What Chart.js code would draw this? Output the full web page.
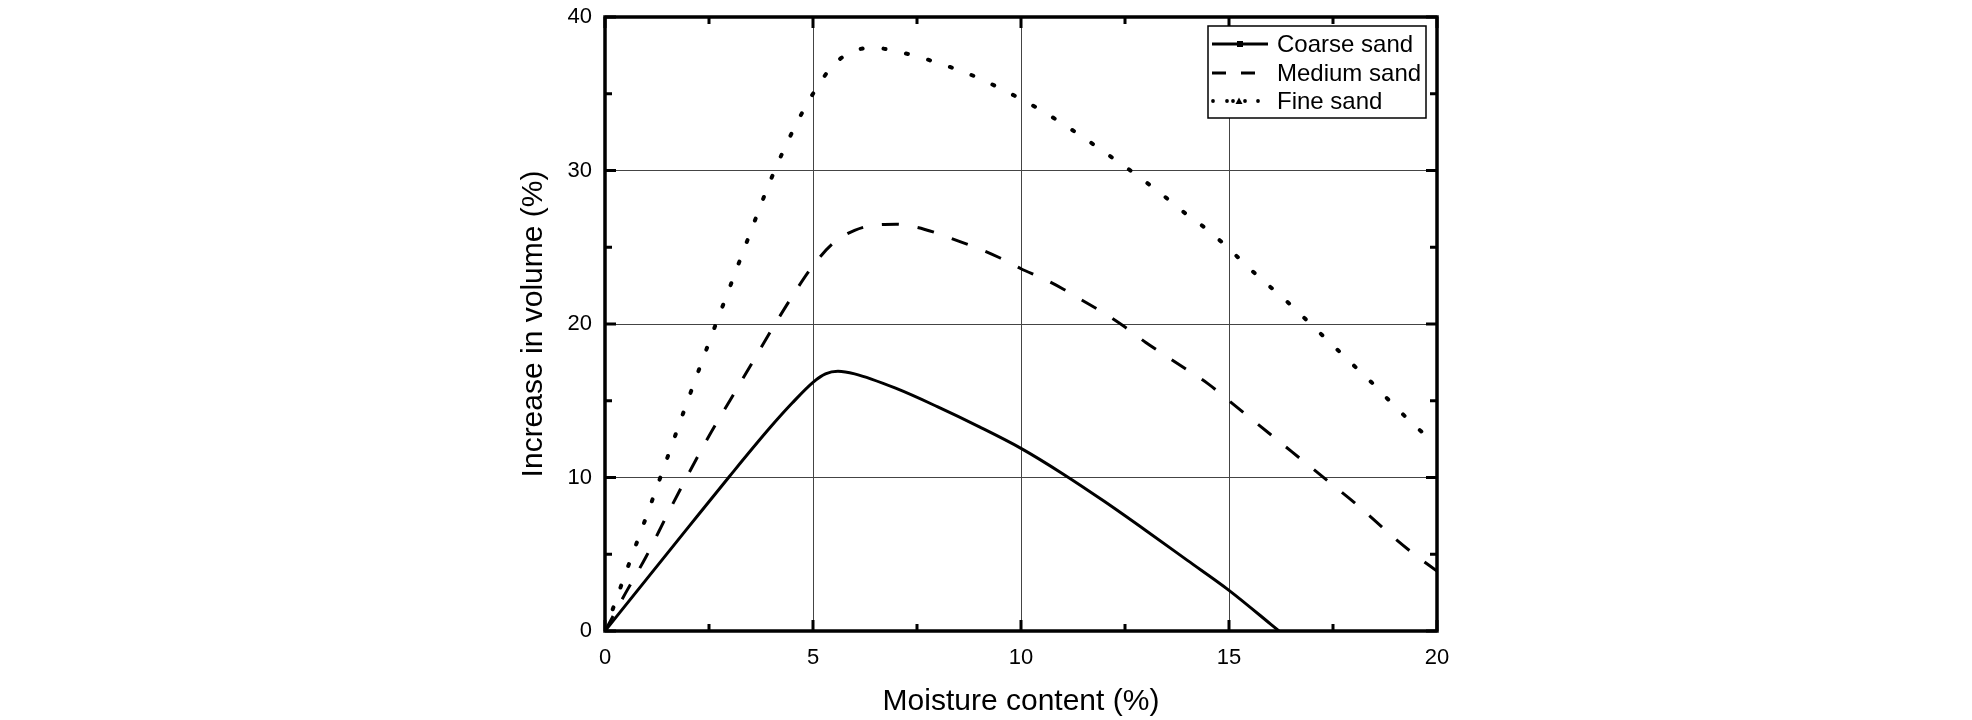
<!DOCTYPE html>
<html><head><meta charset="utf-8">
<script src="https://cdn.jsdelivr.net/npm/chart.js@4.4.1/dist/chart.umd.min.js"></script>
<style>html,body{margin:0;padding:0;background:#fff;}#wrap{width:1972px;height:720px;}</style>
</head><body><div id="wrap"><canvas id="c" width="1972" height="720"></canvas></div>
<script>
// ---- data ----
const seriesNames = ['Coarse sand', 'Medium sand', 'Fine sand'];
const coarseX = [0,1,2,3,4,4.5,5,5.3,5.6,6,7,8,9,10,11,12,13,14,15,16,16.2];
const coarseY = [0,3.38,6.75,10.1,13.35,14.85,16.2,16.75,16.92,16.75,15.8,14.6,13.3,11.9,10.25,8.45,6.55,4.6,2.65,0.45,0];
const mediumX = [0,0.5,1,1.5,2,2.5,3,3.5,4,4.5,5,5.5,6,6.5,7,7.5,8,8.5,9,9.5,10,10.5,11,11.5,12,12.5,13,13.5,14,14.5,15,15.5,16,16.5,17,17.5,18,18.5,19,19.5,20];
const mediumY = [0,2.5,4.9,7.6,10.2,12.7,15.0,17.3,19.6,21.8,23.8,25.3,26.1,26.45,26.5,26.3,25.9,25.4,24.9,24.3,23.6,23.0,22.3,21.5,20.7,19.8,18.8,17.9,17.0,16.1,15.0,13.9,12.8,11.7,10.6,9.5,8.4,7.2,6.0,4.9,3.9];
const fineX = [0,0.5,1,1.5,2,2.5,3,3.5,4,4.5,5,5.5,6,6.5,7,7.5,8,8.5,9,9.5,10,10.5,11,11.5,12,12.5,13,13.5,14,14.5,15,15.5,16,16.5,17,17.5,18,18.5,19,19.5,20];
const fineY = [0,3.8,7.5,11.3,15.1,18.8,22.4,26.0,29.5,32.5,35.0,36.9,37.8,38.0,37.75,37.45,37.0,36.55,36.0,35.35,34.65,33.9,33.05,32.15,31.2,30.25,29.25,28.2,27.1,26.1,24.9,23.6,22.4,21.2,19.9,18.6,17.3,16.0,14.6,13.3,12.1];
const xTickLabels = ['0','5','10','15','20'];
const yTickLabels = ['0','10','20','30','40'];
const xTitle = 'Moisture content (%)';
const yTitle = 'Increase in volume (%)';

const FONT = "'Liberation Sans', Arial, sans-serif";
const pts = (xs, ys) => xs.map((x, i) => ({x, y: ys[i]}));

const frameTicks = {
  id: 'frameTicks',
  afterDatasetsDraw(chart) {
    const {ctx, chartArea: a} = chart;
    const xs = chart.scales.x, ys = chart.scales.y;
    ctx.save();
    ctx.strokeStyle = '#000';
    ctx.lineWidth = 3;
    ctx.lineCap = 'butt';
    for (let v = 0; v <= 20.001; v += 2.5) {
      const L = (Math.abs(v % 5) < 1e-6) ? 11 : 7;
      const px = xs.getPixelForValue(v);
      ctx.beginPath();
      ctx.moveTo(px, a.bottom); ctx.lineTo(px, a.bottom - L);
      ctx.moveTo(px, a.top); ctx.lineTo(px, a.top + L);
      ctx.stroke();
    }
    for (let v = 0; v <= 40.001; v += 5) {
      const L = (Math.abs(v % 10) < 1e-6) ? 11 : 7;
      const py = ys.getPixelForValue(v);
      ctx.beginPath();
      ctx.moveTo(a.left, py); ctx.lineTo(a.left + L, py);
      ctx.moveTo(a.right, py); ctx.lineTo(a.right - L, py);
      ctx.stroke();
    }
    ctx.lineWidth = 3.5;
    ctx.strokeRect(a.left, a.top, a.right - a.left, a.bottom - a.top);
    ctx.restore();
  }
};

const boxLegend = {
  id: 'boxLegend',
  afterDraw(chart) {
    const {ctx, chartArea: a} = chart;
    const bx = a.right - 229, by = a.top + 9, bw = 218, bh = 92;
    ctx.save();
    ctx.fillStyle = '#fff';
    ctx.fillRect(bx, by, bw, bh);
    ctx.strokeStyle = '#000';
    ctx.lineWidth = 1.5;
    ctx.strokeRect(bx, by, bw, bh);
    const x0 = bx + 4, x1 = bx + 60, tx = bx + 69;
    const rows = [by + 18, by + 47, by + 75];
    ctx.lineWidth = 3;
    // coarse
    ctx.beginPath(); ctx.moveTo(x0, rows[0]); ctx.lineTo(x1, rows[0]); ctx.stroke();
    ctx.fillStyle = '#000';
    ctx.fillRect((x0 + x1) / 2 - 3, rows[0] - 3, 6, 6);
    // medium
    ctx.setLineDash([14, 15]);
    ctx.beginPath(); ctx.moveTo(x0, rows[1]); ctx.lineTo(x1, rows[1]); ctx.stroke();
    ctx.setLineDash([]);
    // fine
    [1, 15, 21, 33, 46].forEach(d => {
      ctx.beginPath(); ctx.arc(x0 + d, rows[2], 1.9, 0, Math.PI * 2); ctx.fill();
    });
    const cx = x0 + 27;
    ctx.beginPath(); ctx.moveTo(cx - 3.5, rows[2] + 3); ctx.lineTo(cx + 3.5, rows[2] + 3); ctx.lineTo(cx, rows[2] - 3.5); ctx.closePath(); ctx.fill();
    ctx.font = '24px ' + FONT;
    ctx.textBaseline = 'middle';
    ctx.textAlign = 'left';
    chart.data.datasets.forEach((ds, i) => ctx.fillText(ds.label, tx, rows[i] + 1.5));
    ctx.restore();
  }
};

new Chart(document.getElementById('c'), {
  type: 'line',
  data: {
    datasets: [
      {label: seriesNames[0], data: pts(coarseX, coarseY), borderColor: '#000', borderWidth: 3, pointRadius: 0, cubicInterpolationMode: 'monotone', fill: false},
      {label: seriesNames[1], data: pts(mediumX, mediumY), borderColor: '#000', borderWidth: 3, borderDash: [17, 19], pointRadius: 0, cubicInterpolationMode: 'monotone', fill: false},
      {label: seriesNames[2], data: pts(fineX, fineY), borderColor: '#000', borderWidth: 4, borderDash: [2, 21], borderCapStyle: 'round', pointRadius: 0, cubicInterpolationMode: 'monotone', fill: false}
    ]
  },
  options: {
    responsive: false,
    animation: false,
    devicePixelRatio: 1,
    layout: {autoPadding: false, padding: {left: 515, right: 535, top: 17, bottom: 0}},
    plugins: {legend: {display: false}, tooltip: {enabled: false}},
    scales: {
      x: {
        type: 'linear', min: 0, max: 20,
        afterFit: s => { s.height = 89; },
        afterBuildTicks: s => { s.ticks = xTickLabels.map(t => ({value: Number(t)})); },
        ticks: {font: {size: 22, family: FONT}, color: '#000', padding: 14, maxRotation: 0, callback: v => xTickLabels.find(t => Number(t) === v)},
        grid: {color: '#444', lineWidth: 1, drawTicks: false},
        border: {display: false},
        title: {display: true, text: xTitle, font: {size: 30, family: FONT}, color: '#000', padding: {top: 0, bottom: 0}}
      },
      y: {
        type: 'linear', min: 0, max: 40,
        afterFit: s => { s.width = 90; },
        afterBuildTicks: s => { s.ticks = yTickLabels.map(t => ({value: Number(t)})); },
        ticks: {font: {size: 22, family: FONT, lineHeight: 0.3}, color: '#000', padding: 13, callback: v => yTickLabels.find(t => Number(t) === v)},
        grid: {color: '#444', lineWidth: 1, drawTicks: false},
        border: {display: false},
        title: {display: true, text: yTitle, font: {size: 30, family: FONT}, color: '#000', padding: {top: 1, bottom: 0}}
      }
    }
  },
  plugins: [frameTicks, boxLegend]
});
</script></body></html>
